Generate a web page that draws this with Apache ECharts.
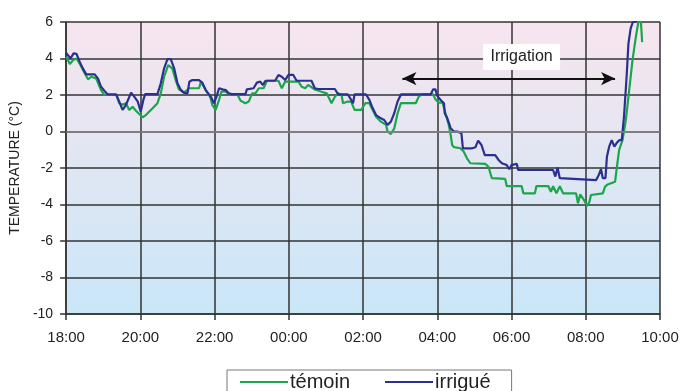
<!DOCTYPE html>
<html>
<head>
<meta charset="utf-8">
<script src="https://cdn.jsdelivr.net/npm/echarts@6/dist/echarts.min.js"></script>
<style>html,body{margin:0;padding:0;background:#fff}#c{width:682px;height:391px}</style>
</head>
<body>
<div id="c"></div>
<script>
// hours since 18:00, temperature °C
var tickLabels = ['18:00','20:00','22:00','00:00','02:00','04:00','06:00','08:00','10:00'];
var yTicks = [-10,-8,-6,-4,-2,0,2,4,6];
var temoin = [[0,4.1],[0.03,4.0],[0.1,3.7],[0.19,3.92],[0.28,4.0],[0.37,3.7],[0.5,3.19],[0.59,2.86],[0.68,3.0],[0.81,2.9],[0.94,2.27],[1.03,2.0],[1.35,2.0],[1.43,1.55],[1.52,1.46],[1.61,1.55],[1.7,1.18],[1.79,1.36],[1.88,1.14],[1.97,0.96],[2.06,0.78],[2.15,0.9],[2.24,1.09],[2.33,1.27],[2.46,1.55],[2.55,2.09],[2.64,3.0],[2.75,3.64],[2.86,3.46],[2.95,2.82],[3.04,2.31],[3.17,2.13],[3.32,2.37],[3.58,2.37],[3.63,2.73],[3.67,2.73],[3.76,2.27],[3.88,1.9],[3.94,1.45],[4.03,1.18],[4.12,1.73],[4.18,2.18],[4.3,2.18],[4.38,2.05],[4.61,2.05],[4.7,1.69],[4.83,1.55],[4.92,1.64],[5.01,2.09],[5.1,2.09],[5.19,2.37],[5.32,2.37],[5.41,2.78],[5.72,2.78],[5.81,2.37],[5.9,2.73],[6.26,2.73],[6.35,2.45],[6.44,2.37],[6.52,2.55],[6.57,2.48],[6.7,2.3],[6.88,2.18],[6.93,2.27],[7.02,2.09],[7.15,1.55],[7.24,1.9],[7.33,2.09],[7.42,2.0],[7.46,1.55],[7.59,1.64],[7.68,1.64],[7.77,1.18],[7.95,1.18],[8.06,1.55],[8.17,1.55],[8.26,1.18],[8.35,0.81],[8.48,0.54],[8.62,0.36],[8.66,0.0],[8.75,-0.14],[8.84,0.17],[8.93,1.0],[9.02,1.55],[9.42,1.55],[9.51,1.95],[9.6,2.03],[9.89,2.03],[9.95,1.76],[10.05,1.58],[10.14,1.58],[10.22,1.0],[10.31,0.36],[10.36,-0.19],[10.4,-0.74],[10.45,-0.86],[10.62,-0.92],[10.71,-1.1],[10.8,-1.47],[10.89,-1.74],[11.29,-1.77],[11.38,-1.93],[11.43,-2.29],[11.47,-2.56],[11.83,-2.6],[11.87,-2.99],[12.27,-2.99],[12.32,-3.39],[12.63,-3.39],[12.67,-2.99],[12.99,-2.99],[13.06,-3.3],[13.12,-3.0],[13.21,-3.39],[13.3,-3.0],[13.39,-3.39],[13.74,-3.39],[13.79,-3.93],[13.85,-3.45],[13.9,-3.45],[13.95,-3.75],[14.04,-4.08],[14.1,-3.84],[14.14,-3.48],[14.46,-3.39],[14.52,-3.02],[14.59,-2.9],[14.79,-2.75],[14.84,-1.93],[14.9,-1.01],[14.99,-0.47],[15.08,0.63],[15.17,2.27],[15.26,3.92],[15.35,5.19],[15.41,5.92],[15.47,6.5],[15.5,6.5],[15.52,4.9]];
var irrigue = [[0,4.3],[0.03,4.28],[0.12,4.0],[0.2,4.28],[0.28,4.25],[0.37,3.8],[0.45,3.46],[0.54,3.13],[0.77,3.13],[0.86,2.9],[0.94,2.45],[1.03,2.23],[1.12,2.03],[1.35,2.03],[1.43,1.64],[1.52,1.18],[1.61,1.45],[1.75,2.13],[1.84,1.9],[1.93,1.64],[2.01,1.09],[2.08,1.73],[2.13,2.05],[2.46,2.05],[2.55,2.64],[2.64,3.46],[2.73,3.97],[2.82,3.97],[2.91,3.46],[3.0,2.64],[3.08,2.31],[3.17,2.13],[3.27,2.09],[3.32,2.73],[3.4,2.82],[3.58,2.82],[3.67,2.68],[3.76,2.27],[3.9,1.9],[3.98,1.55],[4.05,1.9],[4.12,2.37],[4.21,2.31],[4.3,2.27],[4.38,2.09],[4.47,2.05],[4.83,2.05],[4.87,2.31],[5.05,2.37],[5.14,2.68],[5.23,2.73],[5.3,2.55],[5.37,2.78],[5.63,2.78],[5.72,3.1],[5.81,3.0],[5.9,2.82],[5.99,3.1],[6.12,3.1],[6.21,2.78],[6.61,2.78],[6.7,2.37],[6.79,2.33],[7.24,2.33],[7.33,2.03],[7.59,2.03],[7.68,1.73],[7.73,1.55],[7.77,2.03],[8.08,2.03],[8.17,1.73],[8.26,1.27],[8.35,0.9],[8.48,0.72],[8.57,0.63],[8.66,0.36],[8.75,0.54],[8.84,1.0],[8.93,1.64],[9.02,2.03],[9.82,2.03],[9.89,2.31],[9.95,2.31],[10.0,1.95],[10.09,1.73],[10.18,1.55],[10.2,1.0],[10.27,0.72],[10.36,0.18],[10.45,0.0],[10.54,0.0],[10.58,0.08],[10.65,-0.1],[10.69,-0.92],[10.94,-0.92],[11.03,-0.86],[11.1,-0.5],[11.19,-0.74],[11.28,-1.29],[11.56,-1.29],[11.65,-1.56],[11.74,-1.74],[11.87,-1.84],[11.94,-2.07],[12.0,-1.84],[12.14,-1.77],[12.18,-2.11],[13.12,-2.11],[13.18,-2.47],[13.24,-1.97],[13.3,-2.56],[13.34,-2.66],[14.28,-2.66],[14.35,-2.38],[14.41,-2.07],[14.46,-2.56],[14.53,-2.56],[14.57,-1.38],[14.63,-0.83],[14.7,-0.47],[14.77,-0.83],[14.84,-0.61],[14.91,-0.47],[14.97,-0.47],[15.03,0.81],[15.1,3.0],[15.15,4.83],[15.21,5.65],[15.27,6.0],[15.35,6.0],[15.4,6.5]];
var irrigationSpan = [9.06, 14.79];
var irrigationArrowY = 2.9;
var irrigationLabelPos = [12.27, 4.08];

var chart = echarts.init(document.getElementById('c'), null, {renderer:'canvas'});
var font = 'Liberation Sans, Arial, sans-serif';
chart.setOption({
  animation: false,
  textStyle: {fontFamily: font},
  grid: {left: 61, right: 22, top: 22, bottom: 77, show: true, borderWidth: 0,
    backgroundColor: new echarts.graphic.LinearGradient(0,0,0,1,[{offset:0,color:'#f7e5ee'},{offset:1,color:'#c9e7f8'}])},
  legend: {
    left: 227, top: 370, orient: 'horizontal',
    borderColor: '#777', borderWidth: 1, padding: [2, 21, 6, 13],
    itemWidth: 48, itemHeight: 2, itemGap: 35,
    icon: 'rect',
    textStyle: {fontSize: 20, color: '#222', fontFamily: font, padding:[0,0,0,-3]},
    data: ['témoin','irrigué']
  },
  xAxis: {
    type: 'value', min: 0, max: 16, interval: 2,
    axisLine: {onZero: false, lineStyle: {color: '#333', width: 1.5}},
    axisTick: {show: true, length: 6, lineStyle: {color: '#333', width: 1.5}},
    axisLabel: {fontSize: 15, color: '#222', margin: 16, formatter: function(v){return tickLabels[Math.round(v/2)];}},
    splitLine: {show: true, lineStyle: {color: '#333', width: 1.5}}
  },
  yAxis: {
    type: 'value', min: -10, max: 6, interval: 2,
    name: 'TEMPERATURE (°C)', nameLocation: 'middle', nameGap: 30,
    nameTextStyle: {fontSize: 14, color: '#222'},
    axisLine: {show: true, lineStyle: {color: '#333', width: 1.5}},
    axisTick: {show: true, length: 6, lineStyle: {color: '#333', width: 1.5}},
    axisLabel: {fontSize: 14, color: '#222', margin: 13},
    splitLine: {show: true, lineStyle: {color: '#333', width: 1.5}}
  },
  series: [
    {name: 'témoin', type: 'line', data: temoin, showSymbol: false, symbol: 'none',
     lineStyle: {color: '#1aa64b', width: 2.2}, itemStyle: {color: '#1aa64b'}, z: 3,
     markLine: {silent: true, symbol: 'none', label: {show: false},
       lineStyle: {color: '#8a8a8a', width: 1.5, type: 'solid'}, data: [{yAxis: 0}]}
    },
    {name: 'irrigué', type: 'line', data: irrigue, showSymbol: false, symbol: 'none',
     lineStyle: {color: '#2b3090', width: 2.2}, itemStyle: {color: '#2b3090'}, z: 4,
     markLine: {silent: true, symbol: ['arrow','arrow'], symbolSize: [10, 14], label: {show: false},
       lineStyle: {color: '#111', width: 2, type: 'solid'},
       data: [[{coord: [irrigationSpan[0], irrigationArrowY]}, {coord: [irrigationSpan[1], irrigationArrowY]}]]},
     markPoint: {silent: true, symbol: 'rect', symbolSize: [77, 26], itemStyle: {color: '#fff'},
       label: {show: true, formatter: 'Irrigation', color: '#222', fontSize: 16, fontFamily: font},
       data: [{coord: irrigationLabelPos}]}
    }
  ]
});
</script>
</body>
</html>
